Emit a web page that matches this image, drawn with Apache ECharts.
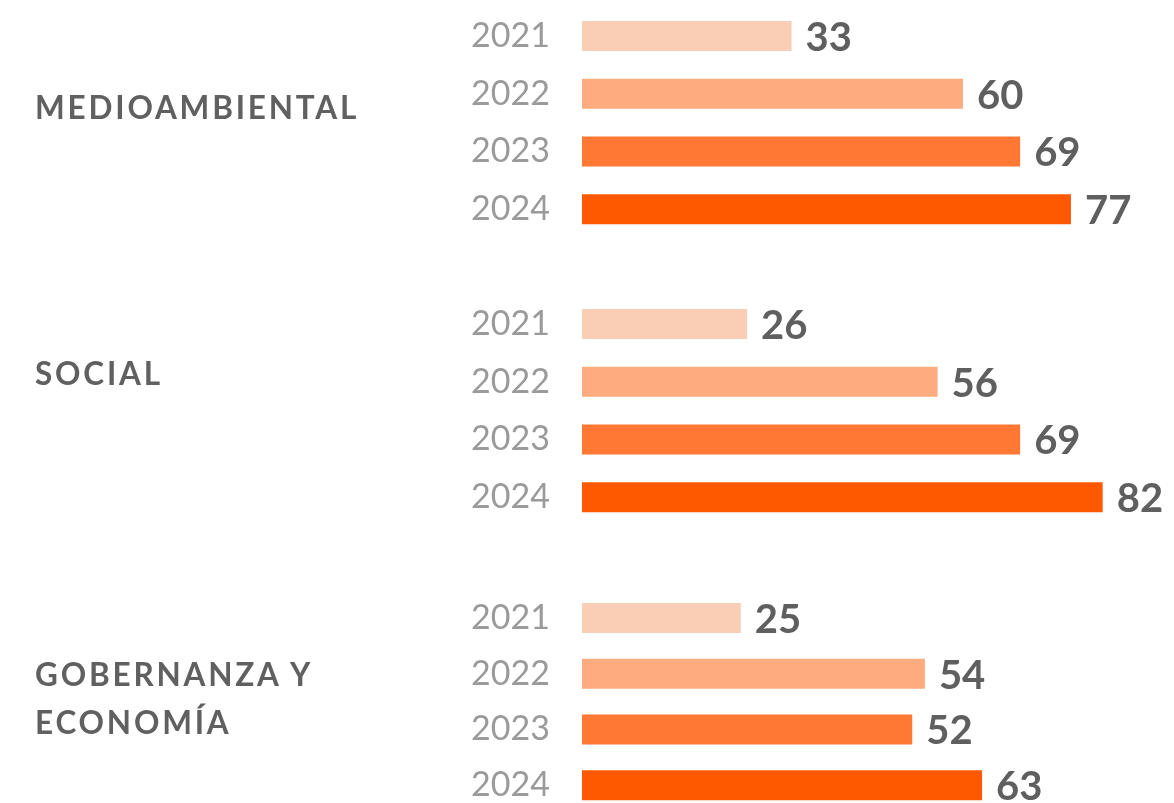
<!DOCTYPE html>
<html>
<head>
<meta charset="utf-8">
<script src="https://cdn.jsdelivr.net/npm/echarts@6/dist/echarts.min.js"></script>
<style>
  html, body { margin: 0; padding: 0; background: #fff; }
  #wrap { position: relative; width: 1174px; height: 803px; }
  #chart { position: absolute; left: 0; top: 0; width: 1174px; height: 803px; }
  .group-label {
    position: absolute;
    left: 35px;
    font-family: Lato, sans-serif;
    font-weight: 700;
    font-size: 31.5px;
    letter-spacing: 2.8px;
    color: #606060;
    line-height: 48px;
    white-space: nowrap;
  }
</style>
</head>
<body>
<div id="wrap">
  <div id="chart"></div>
  <div class="group-label" style="top: 83px;">MEDIOAMBIENTAL</div>
  <div class="group-label" style="top: 349px;">SOCIAL</div>
  <div class="group-label" style="top: 650px;">GOBERNANZA Y<br>ECONOMÍA</div>
</div>
<script>
// datos
const years = ['2021', '2022', '2023', '2024']
const groupNames = ['MEDIOAMBIENTAL', 'SOCIAL', 'GOBERNANZA Y ECONOMÍA']
const medioambiental = [33, 60, 69, 77]
const social = [26, 56, 69, 82]
const gobernanza = [25, 54, 52, 63]
const yearColors = ['#f9ceb5', '#ffab80', '#ff7935', '#ff5900']

const groupValues = [medioambiental, social, gobernanza]

// una rejilla por grupo
const grids = [
  { left: 582, top: 7, width: 635, height: 231, outerBoundsMode: 'none' },
  { left: 582, top: 295, width: 635, height: 231, outerBoundsMode: 'none' },
  { left: 582, top: 590, width: 635, height: 223, outerBoundsMode: 'none' }
]

const chart = echarts.init(document.getElementById('chart'))

const option = {
  animation: false,
  grid: grids,
  xAxis: grids.map((g, i) => ({
    type: 'value',
    gridIndex: i,
    min: 0,
    max: 100,
    show: false
  })),
  yAxis: grids.map((g, i) => ({
    type: 'category',
    gridIndex: i,
    inverse: true,
    data: years,
    axisLine: { show: false },
    axisTick: { show: false },
    splitLine: { show: false },
    axisLabel: {
      margin: 32,
      fontFamily: 'Lato',
      fontSize: 34,
      color: '#9a9a9a'
    }
  })),
  series: groupValues.map((vals, i) => ({
    name: groupNames[i],
    type: 'bar',
    xAxisIndex: i,
    yAxisIndex: i,
    barWidth: 30,
    data: vals.map((v, j) => ({ value: v, itemStyle: { color: yearColors[j] } })),
    label: {
      show: true,
      position: 'right',
      distance: 14,
      fontFamily: 'Lato',
      fontWeight: 'bold',
      fontSize: 40,
      color: '#5f5f5f',
      offset: [0, 2]
    }
  }))
}

chart.setOption(option)
</script>
</body>
</html>
